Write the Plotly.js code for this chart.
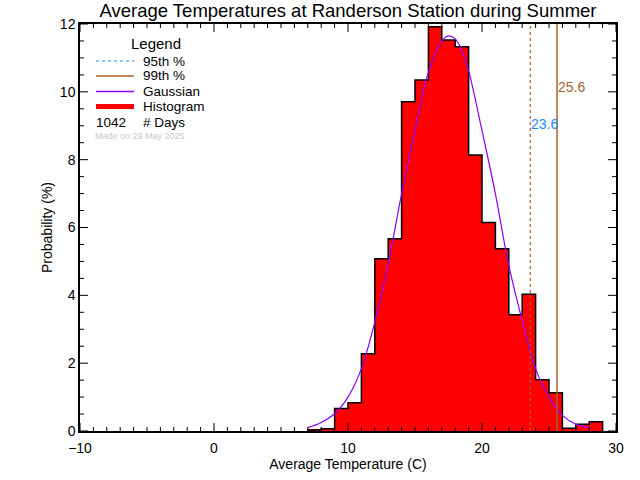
<!DOCTYPE html>
<html>
<head>
<meta charset="utf-8">
<script src="https://cdn.plot.ly/plotly-3.0.1.min.js"></script>
<style>html,body{margin:0;padding:0;background:#fff;}#chart{width:640px;height:480px;}</style>
</head>
<body>
<div id="chart"></div>
<script>
// ---- data ----
var binLeft = [7, 8, 9, 10, 11, 12, 13, 14, 15, 16, 17, 18, 19, 20, 21, 22, 23, 24, 25, 26, 27, 28];
var probability = [0.03, 0.07, 0.66, 0.83, 2.28, 5.08, 5.67, 9.71, 10.35, 11.92, 11.53, 11.33, 8.14, 6.15, 5.37, 3.43, 4.03, 1.51, 1.13, 0.08, 0.20, 0.27];
var gaussX = [7.0, 8.0, 9.0, 10.0, 11.0, 12.0, 13.0, 14.0, 15.0, 16.0, 17.0, 17.5, 18.0, 18.4, 19.0, 20.0, 21.0, 22.0, 23.0, 24.0, 25.0, 26.0, 27.0, 28.0];
var gaussY = [0.10, 0.25, 0.51, 1.00, 1.84, 3.21, 4.93, 6.99, 8.86, 10.57, 11.50, 11.65, 11.56, 11.31, 10.62, 8.86, 6.99, 4.88, 3.26, 1.84, 1.00, 0.46, 0.20, 0.10];
var p95 = 23.6;
var p99 = 25.6;
var nDays = 1042;
var xTicks = [-10, 0, 10, 20, 30];
var yTicks = [0, 2, 4, 6, 8, 10, 12];
var xMinorStep = 1;
var yMinorStep = 0.5;

var FONT = 'Liberation Sans, Arial, sans-serif';
var BROWN = '#a5622a';
var BLUE = '#1e8cff';
var PURPLE = '#8a00ff';

var xRange = [xTicks[0], xTicks[xTicks.length - 1]];
var yRange = [yTicks[0], yTicks[yTicks.length - 1]];

// bin centres for the filled bars
var barX = binLeft.map(function (b) { return b + 0.5; });
// step outline built from the same bins
var stepX = [binLeft[0]], stepY = [0];
for (var i = 0; i < binLeft.length; i++) { stepX.push(binLeft[i]); stepY.push(probability[i]); }
stepX.push(binLeft[binLeft.length - 1] + 1); stepY.push(0);

// plot area in pixels -> paper helper (for legend decoration only)
var L = 80, R = 616, T = 24, B = 431;
var W = R - L, H = B - T;
function px(x) { return (x - L) / W; }
function py(y) { return (B - y) / H; }

var traces = [
  {type: 'bar', x: barX, y: probability, width: 1, marker: {color: '#ff0000', line: {width: 0}}, hoverinfo: 'skip'},
  {type: 'scatter', mode: 'lines', x: stepX, y: stepY, line: {color: 'black', width: 1.5, shape: 'hv'}, hoverinfo: 'skip'},
  {type: 'scatter', mode: 'lines', x: gaussX, y: gaussY, line: {color: PURPLE, width: 1.2, shape: 'spline'}, hoverinfo: 'skip'},
  {type: 'scatter', mode: 'lines', x: [p95, p95], y: yRange, line: {color: BROWN, width: 1.2, dash: 'dot'}, hoverinfo: 'skip'},
  {type: 'scatter', mode: 'lines', x: [p99, p99], y: yRange, line: {color: BROWN, width: 1.5}, hoverinfo: 'skip'}
];

// ---- tick marks (inside, on all four sides), generated from the tick arrays ----
var shapes = [];
function isMajor(v, arr) { return arr.some(function (t) { return Math.abs(t - v) < 1e-9; }); }
for (var xv = xRange[0]; xv <= xRange[1] + 1e-9; xv += xMinorStep) {
  var lx = (isMajor(xv, xTicks) ? 8 : 4) / H;
  shapes.push({type: 'line', xref: 'x', yref: 'paper', x0: xv, x1: xv, y0: 0, y1: lx, line: {color: 'black', width: 1}});
  shapes.push({type: 'line', xref: 'x', yref: 'paper', x0: xv, x1: xv, y0: 1, y1: 1 - lx, line: {color: 'black', width: 1}});
}
for (var yv = yRange[0]; yv <= yRange[1] + 1e-9; yv += yMinorStep) {
  var ly = (isMajor(yv, yTicks) ? 8 : 4) / W;
  shapes.push({type: 'line', xref: 'paper', yref: 'y', x0: 0, x1: ly, y0: yv, y1: yv, line: {color: 'black', width: 1}});
  shapes.push({type: 'line', xref: 'paper', yref: 'y', x0: 1, x1: 1 - ly, y0: yv, y1: yv, line: {color: 'black', width: 1}});
}

// ---- legend drawn inside the plot ----
var legendRows = [
  {y: 61, text: '95th %', color: BLUE, dash: 'dot', w: 1.2},
  {y: 76, text: '99th %', color: BROWN, dash: 'solid', w: 1.5},
  {y: 91.5, text: 'Gaussian', color: PURPLE, dash: 'solid', w: 1.5},
  {y: 106.5, text: 'Histogram', color: '#ff0000', dash: 'solid', w: 5}
];

legendRows.forEach(function (r) {
  shapes.push({type: 'line', xref: 'paper', yref: 'paper', x0: px(96), x1: px(134), y0: py(r.y), y1: py(r.y),
               line: {color: r.color, width: r.w, dash: r.dash}});
});

var annotations = legendRows.map(function (r) {
  return {xref: 'paper', yref: 'paper', x: px(141), y: py(r.y), xanchor: 'left', yanchor: 'middle',
          text: r.text, showarrow: false, font: {family: FONT, size: 13.5, color: 'black'}};
});
annotations.push(
  {xref: 'paper', yref: 'paper', x: px(156), y: py(43), xanchor: 'center', yanchor: 'middle', text: 'Legend',
   showarrow: false, font: {family: FONT, size: 15, color: 'black'}},
  {xref: 'paper', yref: 'paper', x: px(94), y: py(122), xanchor: 'left', yanchor: 'middle', text: String(nDays),
   showarrow: false, font: {family: FONT, size: 13.5, color: 'black'}},
  {xref: 'paper', yref: 'paper', x: px(141), y: py(122), xanchor: 'left', yanchor: 'middle', text: '# Days',
   showarrow: false, font: {family: FONT, size: 13.5, color: 'black'}},
  {xref: 'paper', yref: 'paper', x: px(93), y: py(136), xanchor: 'left', yanchor: 'middle', text: 'Made on 29 May 2025',
   showarrow: false, font: {family: FONT, size: 9, color: '#c8c8c8'}},
  {xref: 'x', yref: 'paper', x: p95, y: py(124), xanchor: 'left', yanchor: 'middle', xshift: -1, text: String(p95.toFixed(1)),
   showarrow: false, font: {family: FONT, size: 14, color: BLUE}},
  {xref: 'x', yref: 'paper', x: p99, y: py(87), xanchor: 'left', yanchor: 'middle', xshift: -1, text: String(p99.toFixed(1)),
   showarrow: false, font: {family: FONT, size: 14, color: BROWN}}
);

var layout = {
  width: 640, height: 480,
  margin: {l: L, r: 640 - R, t: T, b: 480 - B, pad: 0},
  paper_bgcolor: 'white', plot_bgcolor: 'white',
  showlegend: false,
  bargap: 0,
  font: {family: FONT, size: 14, color: 'black'},
  title: {text: 'Average Temperatures at Randerson Station during Summer', x: 0.5, xref: 'paper',
          y: 1 - 11 / 480, yanchor: 'middle', font: {family: FONT, size: 18.5, color: 'black'}},
  xaxis: {range: xRange, tickmode: 'array', tickvals: xTicks, ticks: '', ticklabelstandoff: 3,
          showline: true, linecolor: 'black', linewidth: 1.5, mirror: true, showgrid: false, zeroline: false,
          title: {text: 'Average Temperature (C)', font: {family: FONT, size: 14}, standoff: 0},
          tickfont: {family: FONT, size: 14}},
  yaxis: {range: yRange, tickmode: 'array', tickvals: yTicks, ticks: '',
          showline: true, linecolor: 'black', linewidth: 1.5, mirror: true, showgrid: false, zeroline: false,
          title: {text: 'Probability (%)', font: {family: FONT, size: 14}, standoff: 4},
          tickfont: {family: FONT, size: 14}},
  shapes: shapes,
  annotations: annotations
};

Plotly.newPlot('chart', traces, layout, {displayModeBar: false});
</script>
</body>
</html>
